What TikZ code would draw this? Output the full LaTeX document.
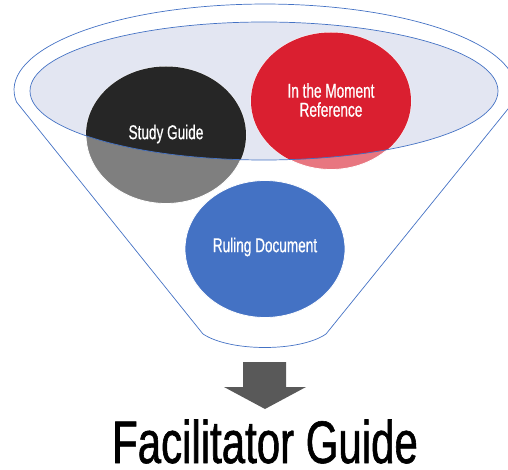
\documentclass[tikz,border=0pt]{standalone}
\usepackage{fontspec}
\usetikzlibrary{shapes.geometric}
\newfontfamily\condsmall[FakeStretch=0.68,FakeBold=0.6]{Liberation Sans}
\newfontfamily\condbig[FakeStretch=0.7,FakeBold=1]{Liberation Sans}
\definecolor{lav}{HTML}{E3E6F2}
\definecolor{funblue}{HTML}{4472C4}
\definecolor{darkc}{HTML}{262626}
\definecolor{grayc}{HTML}{7F7F7F}
\definecolor{redc}{HTML}{DA1F30}
\definecolor{pinkc}{HTML}{E87680}
\definecolor{arrowc}{HTML}{595959}
\tikzset{
  bubble/.style={ellipse, draw=white, line width=0.8pt, minimum width=160pt, minimum height=137pt, inner sep=0pt, text=white, font=\condsmall\fontsize{20}{19}\selectfont, align=center},
  outline/.style={draw=funblue, line width=0.7pt},
  smalltext/.style={font=\condsmall\fontsize{20}{19}\selectfont, text=white, align=center, inner sep=0pt},
}
\begin{document}
\begin{tikzpicture}[x=1pt,y=-1pt]
\clip (0,0) rectangle (508,470);
% funnel outline
\draw[outline] (16.5,102) arc[start angle=172, end angle=368, x radius=251, y radius=86]
  -- (326,334) .. controls (300,352) and (230,352) .. (203,334) -- cycle;
% inner ellipse fill
\fill[lav] (264,91) ellipse[x radius=234, y radius=69];
% circles
\node[bubble, fill=grayc] (sg) at (166,135) {};
\node[bubble, fill=pinkc] (imr) at (331,101) {};
\begin{scope}
  \clip (264,91) ellipse[x radius=234, y radius=69];
  \fill[darkc] (166,135) ellipse[x radius=80, y radius=68.5];
  \fill[redc] (331,101) ellipse[x radius=80, y radius=68.5];
\end{scope}
\node[smalltext] (sgt) at (166,134) {Study Guide};
\node[smalltext] (imrt) at (331,100) {In the Moment\\Reference};
\node[bubble, fill=funblue] (rd) at (265,249) {};
\node[smalltext] (rdt) at (265,247) {Ruling Document};
% inner ellipse outline on top
\draw[outline] (264,91) ellipse[x radius=234, y radius=69];
% arrow
\fill[arrowc] (243,362) -- (286,362) -- (286,387) -- (306,387) -- (265,409) -- (224,387) -- (243,387) -- cycle;
\node[font=\condbig\fontsize{60}{60}\selectfont, anchor=base, inner sep=0pt] (fg) at (265,463) {Facilitator Guide};
\end{tikzpicture}
\end{document}
